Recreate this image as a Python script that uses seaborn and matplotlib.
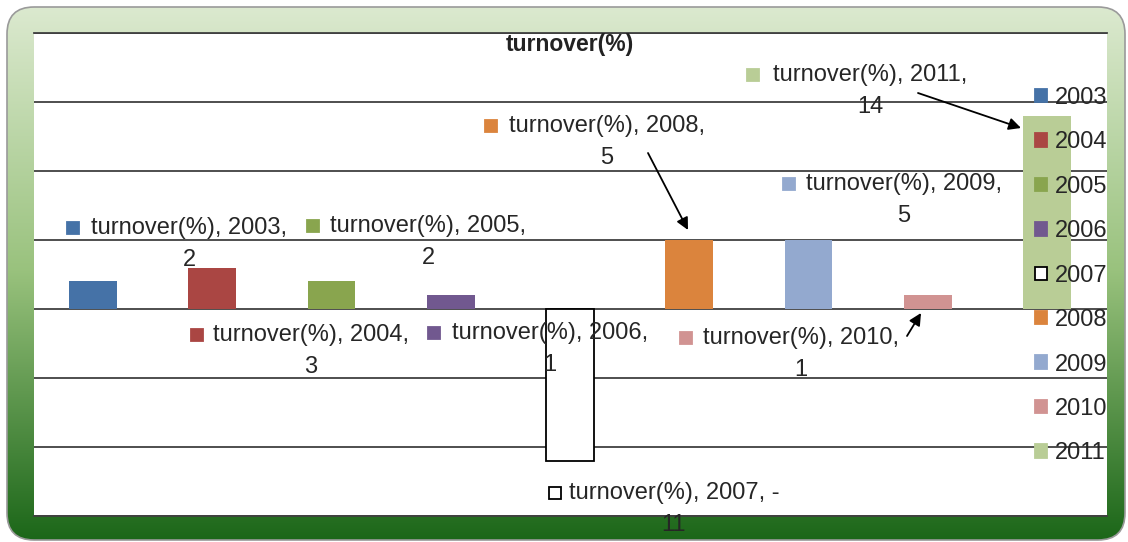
import matplotlib
matplotlib.use("Agg")
import matplotlib.pyplot as plt
from matplotlib.patches import Rectangle, FancyBboxPatch, Patch
import numpy as np
import pandas as pd
import seaborn as sns

# Chart data
years = ["2003", "2004", "2005", "2006", "2007", "2008", "2009", "2010", "2011"]
turnover = [2, 3, 2, 1, -11, 5, 5, 1, 14]
bar_colors = ["#4572a7", "#aa4643", "#89a54e", "#71588f", "#ffffff",
              "#db843d", "#93a9cf", "#d19392", "#b9cd96"]

df = pd.DataFrame({"year": years, "turnover": turnover})

W, H = 1128, 542


# pixel (from top left) -> figure fraction
def fx(x, y):
    return (x / W, 1 - y / H)


sns.set_theme(style="white")
plt.rcParams['font.family'] = ['Liberation Sans', 'DejaVu Sans']
FS = 17

fig = plt.figure(figsize=(W / 100, H / 100), dpi=100)
fig.patch.set_facecolor("white")

# Green gradient rounded frame
bg = fig.add_axes([0, 0, 1, 1], zorder=-5)
bg.set_axis_off()
t = np.linspace(0, 1, 256)
top = np.array([0.867, 0.918, 0.820])
mid = np.array([0.600, 0.760, 0.490])
bot = np.array([0.105, 0.400, 0.095])
grad = np.where(t[:, None] < 0.5,
                top + (mid - top) * (t[:, None] / 0.5),
                mid + (bot - mid) * ((t[:, None] - 0.5) / 0.5))
img = np.repeat(grad[:, None, :], 4, axis=1)
im = bg.imshow(img, extent=(0, W, H, 0), aspect="auto", interpolation="bilinear")
bg.set_xlim(0, W)
bg.set_ylim(H, 0)
frame = FancyBboxPatch((7, 7), W - 10, H - 9,
                       boxstyle="round,pad=0,rounding_size=27",
                       transform=bg.transData, facecolor="none",
                       edgecolor="#9a9a9a", linewidth=1.2)
bg.add_patch(frame)
im.set_clip_path(frame)

# Plot area
x0, x1, y0, y1 = 34, 1107, 33, 516
ax = fig.add_axes([x0 / W, 1 - y1 / H, (x1 - x0) / W, (y1 - y0) / H])
ax.set_facecolor("white")

sns.barplot(data=df, x="year", y="turnover", hue="year", palette=bar_colors,
            hue_order=years, order=years, dodge=False, width=0.4,
            saturation=1, legend=False, ax=ax)

for patch in ax.patches:
    patch.set_linewidth(0)
for patch, yr in zip(ax.patches, years):
    if yr == "2007":
        patch.set_edgecolor("black")
        patch.set_linewidth(1.3)

ax.set_xlim(-0.495, 8.503)
ax.set_ylim(-15, 20)
ax.set_yticks(range(-15, 21, 5))
ax.yaxis.grid(True, color="#404040", linewidth=1.3)
ax.set_axisbelow(True)
ax.tick_params(left=False, bottom=False, labelleft=False, labelbottom=False)
ax.set_xlabel("")
ax.set_ylabel("")
for side in ["left", "right"]:
    ax.spines[side].set_visible(False)
for side in ["top", "bottom"]:
    ax.spines[side].set_color("#404040")
    ax.spines[side].set_linewidth(1.3)

# Title
fig.text(*fx(570, 44), "turnover(%)", ha="center", va="center",
         fontsize=FS - 0.5, fontweight="bold", color="#222222")

# Data labels: (text centre x, text centre y) in pixels
label_pos = {
    "2003": (189, 244), "2004": (311, 351), "2005": (428, 242),
    "2006": (550, 349), "2007": (674, 509), "2008": (607, 142),
    "2009": (904, 200), "2010": (801, 354), "2011": (870, 91),
}
for yr, val in zip(years, turnover):
    if val < 0:
        txt = f"turnover(%), {yr}, -\n{abs(val)}"
    else:
        txt = f"turnover(%), {yr},\n{val}"
    cx, cy = label_pos[yr]
    fig.text(*fx(cx, cy), txt, ha="center", va="center",
             multialignment="center", fontsize=FS, color="#262626",
             linespacing=1.55)

# colour squares beside first line of every label
sq_pos = {
    "2003": (73, 228), "2004": (197, 335), "2005": (313, 226),
    "2006": (434, 333), "2007": (555, 493), "2008": (491, 126),
    "2009": (789, 184), "2010": (686, 338), "2011": (753, 75),
}
for yr, col in zip(years, bar_colors):
    sx, sy = sq_pos[yr]
    ec = "black" if yr == "2007" else col
    fig.add_artist(Rectangle(fx(sx - 6, sy + 6), 12 / W, 12 / H,
                             transform=fig.transFigure, facecolor=col,
                             edgecolor=ec, linewidth=1.3, zorder=5))

# Leader arrows
arrows = [((648, 153), (688, 230)), ((907, 336), (921, 313)),
          ((918, 93), (1021, 128))]
for (sx, sy), (ex, ey) in arrows:
    ax.annotate("", xy=fx(ex, ey), xycoords="figure fraction",
                xytext=fx(sx, sy), textcoords="figure fraction",
                arrowprops=dict(arrowstyle="-|>", color="black", lw=1.3,
                                mutation_scale=18, shrinkA=0, shrinkB=0))

# Legend
handles = []
for yr, col in zip(years, bar_colors):
    ec = "black" if yr == "2007" else col
    handles.append(Patch(facecolor=col, edgecolor=ec, linewidth=1.3))
leg = ax.legend(handles, years, loc="upper left",
                bbox_to_anchor=fx(1035, 87), bbox_transform=fig.transFigure,
                frameon=False, fontsize=FS, handlelength=0.5,
                handleheight=0.5, handletextpad=0.35, labelspacing=0.95,
                borderpad=0, borderaxespad=0)
for text in leg.get_texts():
    text.set_color("#262626")

fig.savefig("out.png", dpi=100)
